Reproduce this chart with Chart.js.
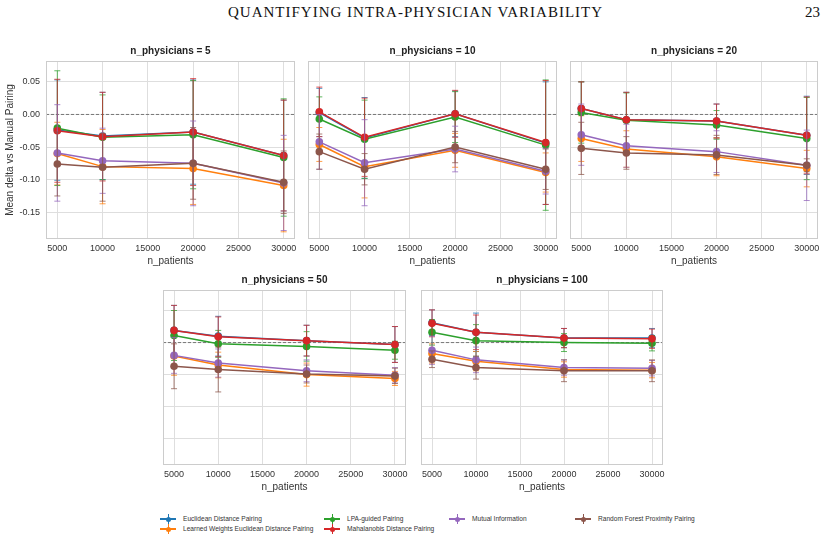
<!DOCTYPE html>
<html>
<head>
<meta charset="utf-8">
<script src="https://cdn.jsdelivr.net/npm/chart.js@4.4.1/dist/chart.umd.min.js"></script>
<style>
  body { margin: 0; background: #fff; width: 826px; height: 539px; position: relative; overflow: hidden; font-family: "Liberation Sans", Arial, sans-serif; }
  canvas { position: absolute; }
  .header { position: absolute; top: 4px; font-family: "Liberation Serif", "DejaVu Serif", serif; font-size: 15px; color: #111; white-space: nowrap; }
  .legend-item { position: absolute; font-size: 6.6px; color: #333; white-space: nowrap; line-height: 8px; }
  .icon { position: absolute; width: 16px; height: 10px; }
  .icon .ln { position: absolute; left: 0; top: 4px; width: 16px; height: 1.5px; }
  .icon .vb { position: absolute; left: 7.5px; top: 0; width: 1px; height: 10px; }
  .icon .dot { position: absolute; left: 5.5px; top: 2.5px; width: 5px; height: 5px; border-radius: 50%; }
</style>
</head>
<body>
<div class="header" style="left:228px; letter-spacing:1px">QUANTIFYING INTRA-PHYSICIAN VARIABILITY</div>
<div class="header" style="left:805px">23</div>
<div id="legend"></div>

<script>
// x values and tick labels
const nPatients = [5000, 10000, 20000, 30000];
const xTicks = [5000, 10000, 15000, 20000, 25000, 30000];
const yTicks = [-0.15, -0.10, -0.05, 0.00, 0.05];
const physicianCounts = [5, 10, 20, 50, 100];

const methodNames = [
    'Euclidean Distance Pairing',
    'Learned Weights Euclidean Distance Pairing',
    'LPA-guided Pairing',
    'Mahalanobis Distance Pairing',
    'Mutual Information',
    'Random Forest Proximity Pairing'
];
const methodColors = ['#1f77b4', '#ff7f0e', '#2ca02c', '#d62728', '#9467bd', '#8c564b'];

// mean delta per method (rows in methodNames order), one array per n_physicians
const meanP5 = [
    [-0.024, -0.033, -0.027, -0.063],
    [-0.060, -0.080, -0.083, -0.109],
    [-0.021, -0.035, -0.031, -0.066],
    [-0.025, -0.034, -0.027, -0.063],
    [-0.059, -0.071, -0.075, -0.105],
    [-0.076, -0.081, -0.075, -0.104]
];
const errP5 = [
    [0.077, 0.067, 0.080, 0.085],
    [0.048, 0.057, 0.055, 0.071],
    [0.088, 0.065, 0.083, 0.090],
    [0.079, 0.068, 0.082, 0.085],
    [0.074, 0.050, 0.065, 0.073],
    [0.049, 0.052, 0.055, 0.048]
];
const meanP10 = [
    [0.003, -0.036, 0.001, -0.044],
    [-0.046, -0.080, -0.055, -0.089],
    [-0.007, -0.038, -0.004, -0.047],
    [0.004, -0.035, 0.001, -0.043],
    [-0.042, -0.074, -0.053, -0.087],
    [-0.057, -0.084, -0.050, -0.084]
];
const errP10 = [
    [0.037, 0.062, 0.035, 0.094],
    [0.026, 0.048, 0.026, 0.030],
    [0.034, 0.060, 0.039, 0.100],
    [0.038, 0.060, 0.036, 0.095],
    [0.042, 0.066, 0.035, 0.035],
    [0.027, 0.024, 0.024, 0.031]
];
const meanP20 = [
    [0.009, -0.008, -0.010, -0.032],
    [-0.037, -0.053, -0.065, -0.083],
    [0.003, -0.009, -0.016, -0.037],
    [0.009, -0.008, -0.010, -0.032],
    [-0.031, -0.048, -0.057, -0.078],
    [-0.052, -0.059, -0.062, -0.078]
];
const errP20 = [
    [0.041, 0.042, 0.026, 0.060],
    [0.035, 0.028, 0.029, 0.028],
    [0.047, 0.042, 0.022, 0.063],
    [0.041, 0.042, 0.026, 0.059],
    [0.047, 0.033, 0.032, 0.054],
    [0.040, 0.025, 0.030, 0.010]
];
const meanP50 = [
    [0.019, 0.010, 0.003, -0.003],
    [-0.021, -0.035, -0.050, -0.056],
    [0.011, -0.002, -0.006, -0.012],
    [0.019, 0.009, 0.003, -0.003],
    [-0.020, -0.032, -0.044, -0.051],
    [-0.037, -0.042, -0.049, -0.052]
];
const errP50 = [
    [0.039, 0.031, 0.024, 0.028],
    [0.030, 0.020, 0.018, 0.011],
    [0.039, 0.021, 0.023, 0.014],
    [0.039, 0.031, 0.024, 0.028],
    [0.028, 0.022, 0.017, 0.012],
    [0.035, 0.035, 0.014, 0.012]
];
const meanP100 = [
    [0.031, 0.016, 0.007, 0.007],
    [-0.017, -0.029, -0.042, -0.043],
    [0.016, 0.003, 0.000, -0.001],
    [0.030, 0.016, 0.007, 0.006],
    [-0.012, -0.027, -0.039, -0.040],
    [-0.026, -0.039, -0.044, -0.044]
];
const errP100 = [
    [0.020, 0.030, 0.015, 0.015],
    [0.015, 0.015, 0.012, 0.012],
    [0.020, 0.025, 0.014, 0.012],
    [0.021, 0.027, 0.015, 0.015],
    [0.022, 0.020, 0.012, 0.012],
    [0.013, 0.018, 0.017, 0.017]
];

const FONT = '"Liberation Sans", Arial, sans-serif';
const TEXT = '#333333';

function hexAlpha(hex, a) {
    const n = parseInt(hex.slice(1), 16);
    return `rgba(${n >> 16}, ${(n >> 8) & 255}, ${n & 255}, ${a})`;
}

// error bars + frame + dashed zero line + centered panel title
const panelDecor = {
    id: 'panelDecor',
    beforeDatasetsDraw(chart) {
        const ctx = chart.ctx, a = chart.chartArea, y0 = chart.scales.y.getPixelForValue(0);
        ctx.save();
        ctx.strokeStyle = 'rgba(60,60,60,0.8)';
        ctx.lineWidth = 0.8;
        ctx.setLineDash([3, 2]);
        ctx.beginPath();
        ctx.moveTo(a.left, y0);
        ctx.lineTo(a.right, y0);
        ctx.stroke();
        ctx.restore();
    },
    beforeDatasetDraw(chart, args) {
        const ds = chart.data.datasets[args.index];
        const ys = chart.scales.y, ctx = chart.ctx;
        ctx.save();
        ctx.strokeStyle = hexAlpha(ds.borderColor, 0.75);
        ctx.lineWidth = 1;
        args.meta.data.forEach((pt, i) => {
            const v = ds.data[i].y, e = ds.errors[i];
            const top = ys.getPixelForValue(v + e), bot = ys.getPixelForValue(v - e);
            ctx.beginPath();
            ctx.moveTo(pt.x, top); ctx.lineTo(pt.x, bot);
            ctx.moveTo(pt.x - 3, top); ctx.lineTo(pt.x + 3, top);
            ctx.moveTo(pt.x - 3, bot); ctx.lineTo(pt.x + 3, bot);
            ctx.stroke();
        });
        ctx.restore();
    },
    afterDraw(chart, args, opts) {
        const ctx = chart.ctx, a = chart.chartArea;
        ctx.save();
        ctx.strokeStyle = '#cccccc';
        ctx.lineWidth = 1;
        ctx.strokeRect(a.left + 0.5, a.top + 0.5, a.right - a.left - 1, a.bottom - a.top - 1);
        ctx.fillStyle = '#222';
        ctx.font = 'bold 10px ' + FONT;
        ctx.textAlign = 'center';
        ctx.textBaseline = 'bottom';
        ctx.fillText(opts.text, (a.left + a.right) / 2, a.top - 5);
        ctx.restore();
    }
};

function makePanel(nPhys, means, errs, plot, showY) {
    // hidden y axes still get some width so the first x label fits without shifting the plot
    const yAxisW = showY ? 46 : 16;
    const titleH = 22, xAxisH = 28, padR = 14, padB = 2;
    const canvas = document.createElement('canvas');
    canvas.width = yAxisW + plot.w + padR;
    canvas.height = titleH + plot.h + xAxisH + padB;
    canvas.style.left = (plot.x - yAxisW) + 'px';
    canvas.style.top = (plot.y - titleH) + 'px';
    document.body.appendChild(canvas);

    const datasets = methodNames.map((name, m) => ({
        label: name,
        data: means[m].map((v, i) => ({ x: nPatients[i], y: v })),
        errors: errs[m],
        borderColor: methodColors[m],
        backgroundColor: methodColors[m],
        pointBackgroundColor: methodColors[m],
        pointBorderColor: methodColors[m],
        borderWidth: 1.5,
        pointRadius: 3.8,
        pointBorderWidth: 0,
        tension: 0,
        order: methodNames.length - m
    }));

    new Chart(canvas, {
        type: 'line',
        data: { datasets: datasets },
        options: {
            responsive: false,
            animation: false,
            devicePixelRatio: 1,
            layout: { padding: { top: titleH, right: padR, bottom: padB, left: 0 } },
            plugins: {
                legend: { display: false },
                tooltip: { enabled: false },
                title: { display: false },
                panelDecor: { text: 'n_physicians = ' + nPhys }
            },
            scales: {
                x: {
                    type: 'linear',
                    min: 3750,
                    max: 31250,
                    afterBuildTicks: s => { s.ticks = xTicks.map(v => ({ value: v })); },
                    afterFit: s => { s.height = xAxisH; },
                    ticks: { font: { size: 9, family: FONT }, color: TEXT, padding: 4, maxRotation: 0, autoSkip: false, callback: v => String(v) },
                    grid: { color: '#dedede', drawTicks: false },
                    border: { display: false },
                    title: { display: true, text: 'n_patients', font: { size: 10, family: FONT }, color: TEXT, padding: { top: 1, bottom: 0 } }
                },
                y: {
                    min: -0.191,
                    max: 0.082,
                    afterBuildTicks: s => { s.ticks = yTicks.map(v => ({ value: v })); },
                    afterFit: s => { s.width = yAxisW; },
                    ticks: { display: showY, font: { size: 9, family: FONT }, color: TEXT, padding: 6, callback: v => v.toFixed(2) },
                    grid: { color: '#dedede', drawTicks: false },
                    border: { display: false },
                    title: { display: showY, text: 'Mean delta vs Manual Pairing', font: { size: 10, family: FONT }, color: TEXT, padding: { top: 4, bottom: 2 } }
                }
            }
        },
        plugins: [panelDecor]
    });
}

makePanel(physicianCounts[0], meanP5, errP5, { x: 46, y: 61, w: 249, h: 178 }, true);
makePanel(physicianCounts[1], meanP10, errP10, { x: 308, y: 61, w: 249, h: 178 }, false);
makePanel(physicianCounts[2], meanP20, errP20, { x: 570, y: 61, w: 248, h: 178 }, false);
makePanel(physicianCounts[3], meanP50, errP50, { x: 163, y: 290, w: 243, h: 175 }, false);
makePanel(physicianCounts[4], meanP100, errP100, { x: 421, y: 290, w: 242, h: 175 }, false);

// legend, laid out in columns like the figure
const legendSlots = [
    { x: 160, y: 514 }, { x: 160, y: 524 },
    { x: 324, y: 514 }, { x: 324, y: 524 },
    { x: 449, y: 514 }, { x: 575, y: 514 }
];
const legend = document.getElementById('legend');
methodNames.forEach((name, m) => {
    const s = legendSlots[m], c = methodColors[m];
    const icon = document.createElement('div');
    icon.className = 'icon';
    icon.style.left = s.x + 'px';
    icon.style.top = s.y + 'px';
    icon.innerHTML = `<div class="ln" style="background:${c}"></div><div class="vb" style="background:${c}"></div><div class="dot" style="background:${c}"></div>`;
    legend.appendChild(icon);
    const label = document.createElement('div');
    label.className = 'legend-item';
    label.style.left = (s.x + 23) + 'px';
    label.style.top = (s.y + 1) + 'px';
    label.textContent = name;
    legend.appendChild(label);
});
</script>
</body>
</html>
